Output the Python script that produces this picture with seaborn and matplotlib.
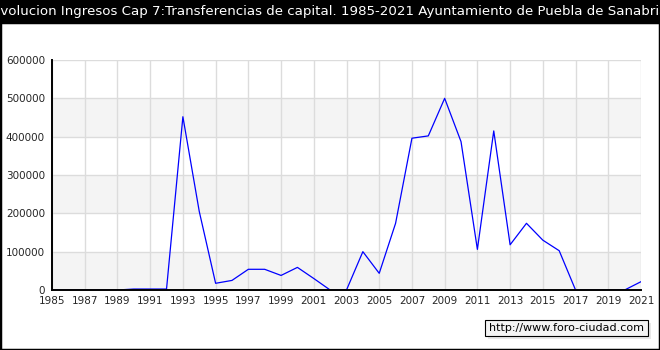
import numpy as np
import pandas as pd
import matplotlib
matplotlib.use("Agg")
import matplotlib.pyplot as plt
from matplotlib.patches import Rectangle
from matplotlib.ticker import MultipleLocator
import seaborn as sns

years = list(range(1985, 2022))
values = [0, 0, 0, 0, 0, 2500, 2500, 2500, 452000, 205000,
          17500, 25000, 54000, 54000, 38000, 59000, 30000, 0, 0, 100000,
          43500, 174000, 396000, 402000, 500000, 387000, 106000, 415000, 118000, 174000,
          130000, 102500, 0, 0, 0, 0, 21700]
xticks = list(range(1985, 2022, 2))
yticks = list(range(0, 600001, 100000))
title = "Evolucion Ingresos Cap 7:Transferencias de capital. 1985-2021 Ayuntamiento de Puebla de Sanabria"
watermark = "http://www.foro-ciudad.com"

df = pd.DataFrame({"year": years, "value": values})

sns.set_style("white")
plt.rcParams["font.family"] = ["DejaVu Sans"]

fig = plt.figure(figsize=(6.6, 3.5), dpi=100)
fig.patch.set_facecolor("white")
ax = fig.add_axes([52/660, 60/350, (641-52)/660, (290-60)/350])
ax.set_facecolor("white")

# alternating bands
for lo in (0, 200000, 400000):
    ax.axhspan(lo, lo + 100000, color="#f4f4f4", zorder=0, lw=0)

sns.lineplot(data=df, x="year", y="value", ax=ax, color="#0000ff",
             linewidth=0.9, zorder=3)

ax.set_xlim(1985, 2021)
ax.set_ylim(0, 600000)
ax.set_xticks(xticks)
ax.set_xticklabels([str(t) for t in xticks])
ax.set_yticks(yticks)
ax.set_yticklabels([str(t) for t in yticks])
ax.yaxis.set_minor_locator(MultipleLocator(50000))
ax.grid(True, which="major", color="#dcdcdc", linewidth=1.0, zorder=1)
ax.set_axisbelow(True)
ax.tick_params(axis="both", which="both", direction="in", color="black",
               labelsize=7.5, width=0.8)
ax.tick_params(axis="y", which="major", length=3, pad=5)
ax.tick_params(axis="y", which="minor", length=3)
ax.tick_params(axis="x", which="major", length=3, pad=4)
ax.set_xlabel("")
ax.set_ylabel("")
for s in ("top", "right"):
    ax.spines[s].set_visible(False)
for s in ("left", "bottom"):
    ax.spines[s].set_color("black")
    ax.spines[s].set_linewidth(1.4)
    ax.spines[s].set_zorder(4)

# title bar
fig.patches.append(Rectangle((0, 1 - 22/350), 1, 22/350, transform=fig.transFigure,
                             facecolor="black", edgecolor="none", zorder=0))
fig.text(0.5, 1 - 11.5/350, title, color="white", ha="center", va="center",
         fontsize=9.6)

# outer frame
fig.patches.append(Rectangle((0, 0), 1, 1 - 22/350, transform=fig.transFigure,
                             facecolor="none", edgecolor="black", linewidth=2.5,
                             zorder=5))

# watermark box with shadow
fig.patches.append(Rectangle((488/660, 1 - 339/350), 163/660, 16/350,
                             transform=fig.transFigure, facecolor="#e8e8e8",
                             edgecolor="none", zorder=1))
fig.patches.append(Rectangle((485/660, 1 - 336/350), 163/660, 16/350,
                             transform=fig.transFigure, facecolor="#f4f4f4",
                             edgecolor="black", linewidth=0.8, zorder=2))
fig.text(566.5/660, 1 - 328/350, watermark, ha="center", va="center",
         fontsize=8, color="black", zorder=3)

fig.savefig("out.png", dpi=100)
